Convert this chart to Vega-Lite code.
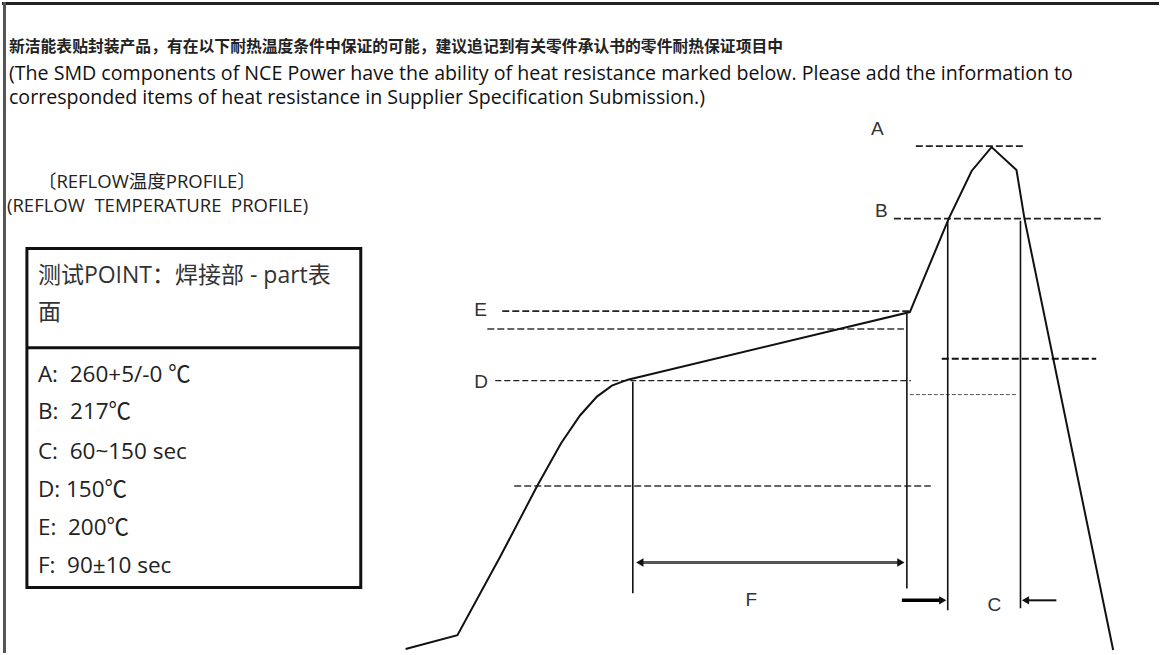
{
  "$schema": "https://vega.github.io/schema/vega-lite/v6.json",
  "width": 1161,
  "height": 655,
  "autosize": {"type": "fit", "contains": "padding"},
  "padding": 0,
  "background": "white",
  "config": {"view": {"stroke": null}},
  "datasets": {
    "frame": [
      {"side": "top", "x": 0, "x2": 1161, "y": 1.5, "y2": 1.5},
      {"side": "left", "x": 2.5, "x2": 2.5, "y": 0, "y2": 655}
    ],
    "curve": [
      {"i": 1, "x": 405, "y": 651},
      {"i": 2, "x": 457, "y": 637},
      {"i": 3, "x": 500, "y": 558},
      {"i": 4, "x": 537, "y": 487},
      {"i": 5, "x": 561, "y": 444},
      {"i": 6, "x": 580, "y": 416},
      {"i": 7, "x": 597, "y": 397},
      {"i": 8, "x": 612, "y": 386},
      {"i": 9, "x": 628, "y": 380},
      {"i": 10, "x": 911, "y": 312},
      {"i": 11, "x": 950, "y": 218},
      {"i": 12, "x": 973, "y": 170},
      {"i": 13, "x": 993, "y": 146},
      {"i": 14, "x": 1018, "y": 169},
      {"i": 15, "x": 1026, "y": 218},
      {"i": 16, "x": 1115, "y": 652}
    ],
    "dash": [
      {"kind": "black", "x": 917, "x2": 1027, "y": 145},
      {"kind": "black", "x": 895, "x2": 1105, "y": 218},
      {"kind": "black", "x": 502, "x2": 912, "y": 311},
      {"kind": "gray", "x": 487, "x2": 905, "y": 329},
      {"kind": "thin", "x": 495, "x2": 912, "y": 381},
      {"kind": "thick", "x": 943, "x2": 1098, "y": 359},
      {"kind": "fine", "x": 911, "x2": 1018, "y": 395},
      {"kind": "gray", "x": 514, "x2": 932, "y": 487}
    ],
    "vert": [
      {"x": 633, "y": 382, "y2": 595},
      {"x": 908, "y": 314, "y2": 590},
      {"x": 949, "y": 220, "y2": 612},
      {"x": 1022, "y": 220, "y2": 610}
    ],
    "arrows": [
      {"kind": "F", "x": 640, "x2": 902, "y": 564},
      {"kind": "R", "x": 903, "x2": 943, "y": 602},
      {"kind": "L", "x": 1028, "x2": 1058, "y": 602}
    ],
    "heads": [
      {"dir": "left", "kind": "F", "x": 640, "y": 564},
      {"dir": "right", "kind": "F", "x": 902, "y": 564},
      {"dir": "right", "kind": "R", "x": 944, "y": 602},
      {"dir": "left", "kind": "L", "x": 1027, "y": 602}
    ],
    "box": [
      {"x": 25, "x2": 360, "y": 248, "y2": 589}
    ],
    "divider": [
      {"x": 25, "x2": 360, "y": 348}
    ],
    "texts": [
      {"g": "cn", "x": 7, "y": 45, "t": "新洁能表贴封装产品，有在以下耐热温度条件中保证的可能，建议追记到有关零件承认书的零件耐热保证项目中"},
      {"g": "en", "x": 7, "y": 72, "t": "(The SMD components of NCE Power have the ability of heat resistance marked below. Please add the information to"},
      {"g": "en", "x": 7, "y": 97, "t": "corresponded items of heat resistance in Supplier Specification Submission.)"},
      {"g": "reflow", "x": 36, "y": 181, "t": "〔REFLOW温度PROFILE〕"},
      {"g": "reflow", "x": 5, "y": 205, "t": "(REFLOW\u00a0\u00a0TEMPERATURE\u00a0\u00a0PROFILE)"},
      {"g": "head", "x": 36, "y": 276, "t": "测试POINT：焊接部 - part表"},
      {"g": "head", "x": 36, "y": 313, "t": "面"},
      {"g": "item", "x": 36, "y": 375, "t": "A:\u00a0\u00a0260+5/-0 ℃"},
      {"g": "item", "x": 36, "y": 413, "t": "B:\u00a0\u00a0217℃"},
      {"g": "item", "x": 36, "y": 453, "t": "C:\u00a0\u00a060~150 sec"},
      {"g": "item", "x": 36, "y": 491, "t": "D: 150℃"},
      {"g": "item", "x": 36, "y": 529, "t": "E:\u00a0\u00a0200℃"},
      {"g": "item", "x": 36, "y": 567, "t": "F:\u00a0\u00a090±10 sec"},
      {"g": "letter", "x": 872, "y": 128, "t": "A"},
      {"g": "letter", "x": 876, "y": 210, "t": "B"},
      {"g": "letter", "x": 474, "y": 310, "t": "E"},
      {"g": "letter", "x": 474, "y": 382, "t": "D"},
      {"g": "letter", "x": 746, "y": 602, "t": "F"},
      {"g": "letter", "x": 989, "y": 607, "t": "C"}
    ]
  },
  "encoding": {
    "x": {"field": "x", "type": "quantitative", "scale": {"domain": [0, 1161], "nice": false, "zero": false}, "axis": null},
    "y": {"field": "y", "type": "quantitative", "scale": {"domain": [0, 655], "nice": false, "zero": false, "reverse": true}, "axis": null}
  },
  "layer": [
    {
      "data": {"name": "frame"},
      "transform": [{"filter": "datum.side === 'top'"}],
      "mark": {"type": "rule", "stroke": "#222222", "strokeWidth": 3},
      "encoding": {"x2": {"field": "x2"}, "y2": {"field": "y2"}}
    },
    {
      "data": {"name": "frame"},
      "transform": [{"filter": "datum.side === 'left'"}],
      "mark": {"type": "rule", "stroke": "#555555", "strokeWidth": 3},
      "encoding": {"x2": {"field": "x2"}, "y2": {"field": "y2"}}
    },
    {
      "data": {"name": "dash"},
      "transform": [{"filter": "datum.kind === 'black'"}],
      "mark": {"type": "rule", "stroke": "#222222", "strokeWidth": 1.6, "strokeDash": [7, 3]},
      "encoding": {"x2": {"field": "x2"}}
    },
    {
      "data": {"name": "dash"},
      "transform": [{"filter": "datum.kind === 'gray'"}],
      "mark": {"type": "rule", "stroke": "#666666", "strokeWidth": 2, "strokeDash": [7, 3]},
      "encoding": {"x2": {"field": "x2"}}
    },
    {
      "data": {"name": "dash"},
      "transform": [{"filter": "datum.kind === 'thin'"}],
      "mark": {"type": "rule", "stroke": "#222222", "strokeWidth": 1.2, "strokeDash": [6, 3]},
      "encoding": {"x2": {"field": "x2"}}
    },
    {
      "data": {"name": "dash"},
      "transform": [{"filter": "datum.kind === 'thick'"}],
      "mark": {"type": "rule", "stroke": "#111111", "strokeWidth": 2, "strokeDash": [7, 3]},
      "encoding": {"x2": {"field": "x2"}}
    },
    {
      "data": {"name": "dash"},
      "transform": [{"filter": "datum.kind === 'fine'"}],
      "mark": {"type": "rule", "stroke": "#555555", "strokeWidth": 1, "strokeDash": [4, 2]},
      "encoding": {"x2": {"field": "x2"}}
    },
    {
      "data": {"name": "vert"},
      "mark": {"type": "rule", "stroke": "#111111", "strokeWidth": 1.6},
      "encoding": {"y2": {"field": "y2"}}
    },
    {
      "data": {"name": "curve"},
      "mark": {"type": "line", "stroke": "#111111", "strokeWidth": 2, "strokeJoin": "miter"},
      "encoding": {"order": {"field": "i", "type": "quantitative"}}
    },
    {
      "data": {"name": "arrows"},
      "transform": [{"filter": "datum.kind === 'F'"}],
      "mark": {"type": "rule", "stroke": "#555555", "strokeWidth": 3},
      "encoding": {"x2": {"field": "x2"}}
    },
    {
      "data": {"name": "arrows"},
      "transform": [{"filter": "datum.kind === 'R'"}],
      "mark": {"type": "rule", "stroke": "#000000", "strokeWidth": 3.5},
      "encoding": {"x2": {"field": "x2"}}
    },
    {
      "data": {"name": "arrows"},
      "transform": [{"filter": "datum.kind === 'L'"}],
      "mark": {"type": "rule", "stroke": "#111111", "strokeWidth": 2},
      "encoding": {"x2": {"field": "x2"}}
    },
    {
      "data": {"name": "heads"},
      "transform": [{"filter": "datum.dir === 'left'"}],
      "mark": {"type": "point", "shape": "triangle-left", "filled": true, "color": "#111111", "size": 70, "opacity": 1},
      "encoding": {}
    },
    {
      "data": {"name": "heads"},
      "transform": [{"filter": "datum.dir === 'right'"}],
      "mark": {"type": "point", "shape": "triangle-right", "filled": true, "color": "#111111", "size": 70, "opacity": 1},
      "encoding": {}
    },
    {
      "data": {"name": "box"},
      "mark": {"type": "rect", "fill": null, "fillOpacity": 0, "stroke": "#111111", "strokeWidth": 3},
      "encoding": {"x2": {"field": "x2"}, "y2": {"field": "y2"}}
    },
    {
      "data": {"name": "divider"},
      "mark": {"type": "rule", "stroke": "#111111", "strokeWidth": 3},
      "encoding": {"x2": {"field": "x2"}}
    },
    {
      "data": {"name": "texts"},
      "transform": [{"filter": "datum.g === 'cn'"}],
      "mark": {"type": "text", "align": "left", "baseline": "middle", "font": "Noto Sans CJK SC", "fontSize": 15.8, "fontWeight": "bold", "color": "#222222"},
      "encoding": {"text": {"field": "t"}}
    },
    {
      "data": {"name": "texts"},
      "transform": [{"filter": "datum.g === 'en'"}],
      "mark": {"type": "text", "align": "left", "baseline": "middle", "font": "Open Sans", "fontSize": 19.6, "color": "#111111"},
      "encoding": {"text": {"field": "t"}}
    },
    {
      "data": {"name": "texts"},
      "transform": [{"filter": "datum.g === 'reflow'"}],
      "mark": {"type": "text", "align": "left", "baseline": "middle", "font": "Open Sans, Noto Sans CJK SC", "fontSize": 18.5, "color": "#222222"},
      "encoding": {"text": {"field": "t"}}
    },
    {
      "data": {"name": "texts"},
      "transform": [{"filter": "datum.g === 'head'"}],
      "mark": {"type": "text", "align": "left", "baseline": "middle", "font": "Open Sans, Noto Sans CJK SC", "fontSize": 23, "color": "#333333"},
      "encoding": {"text": {"field": "t"}}
    },
    {
      "data": {"name": "texts"},
      "transform": [{"filter": "datum.g === 'item'"}],
      "mark": {"type": "text", "align": "left", "baseline": "middle", "font": "Open Sans, Noto Sans CJK SC", "fontSize": 22.5, "color": "#222222"},
      "encoding": {"text": {"field": "t"}}
    },
    {
      "data": {"name": "texts"},
      "transform": [{"filter": "datum.g === 'letter'"}],
      "mark": {"type": "text", "align": "left", "baseline": "middle", "font": "Liberation Sans", "fontSize": 19, "color": "#333333"},
      "encoding": {"text": {"field": "t"}}
    }
  ]
}
